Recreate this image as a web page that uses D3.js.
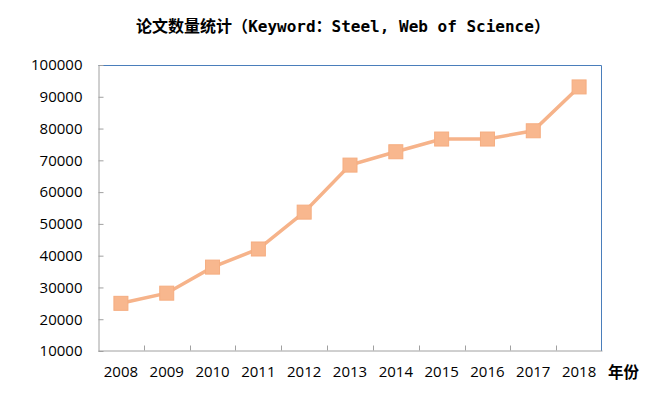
<!DOCTYPE html>
<html>
<head>
<meta charset="utf-8">
<script src="https://cdn.jsdelivr.net/npm/d3@7"></script>
<style>
  body { margin: 0; background: #fff; }
  .axis text { font-family: "Open Sans", sans-serif; font-size: 15px; fill: #000; }
  .cjk { font-family: "Noto Sans CJK SC", sans-serif; }
  .latin { font-family: "DejaVu Sans Mono", monospace; }
</style>
</head>
<body>
<div id="chart"></div>
<script>
const years = ['2008', '2009', '2010', '2011', '2012', '2013', '2014', '2015', '2016', '2017', '2018'];
const papers = [25000, 28200, 36400, 42100, 53700, 68500, 72700, 76700, 76700, 79300, 93100];
const yTicks = [10000, 20000, 30000, 40000, 50000, 60000, 70000, 80000, 90000, 100000];
const titleParts = [
  ['cjk', '论文数量统计（'],
  ['latin', 'Keyword'],
  ['cjk', '：'],
  ['latin', 'Steel, Web of Science'],
  ['cjk', '）']
];

const width = 650, height = 394;
const margin = {top: 65, right: 48, bottom: 43, left: 98};
const w = width - margin.left - margin.right;
const h = height - margin.top - margin.bottom;

let svg = d3.select('#chart')
  .append('svg')
  .attr('width', width)
  .attr('height', height);

let title = svg.append('text')
  .attr('x', 343)
  .attr('y', 32)
  .attr('text-anchor', 'middle')
  .style('font-weight', 'bold')
  .style('font-size', '16px');

title.selectAll('tspan')
  .data(titleParts)
  .enter()
    .append('tspan')
    .attr('class', d => d[0])
    .text(d => d[1]);

let g = svg.append('g')
  .attr('transform', `translate(${margin.left},${margin.top})`);

let x = d3.scaleBand()
  .domain(years)
  .range([0, w]);

let y = d3.scaleLinear()
  .domain([10000, 100000])
  .range([h, 0]);

// blue frame on top and right
g.append('path')
  .attr('d', `M0.5,0.5H${w - 0.5}V${h}`)
  .attr('fill', 'none')
  .attr('stroke', '#4a7ebb')
  .attr('stroke-width', 1);

let yAxis = d3.axisLeft(y)
  .tickValues(yTicks)
  .tickSizeInner(-5)
  .tickSizeOuter(0)
  .tickPadding(16)
  .tickFormat(d3.format('d'));

g.append('g')
  .attr('class', 'axis')
  .attr('transform', 'translate(0.5,0)')
  .call(yAxis)
  .call(s => s.selectAll('line, path').attr('stroke', '#a0a0a0'));

// category boundary ticks on the x axis
let xAxis = d3.axisBottom(x).tickSize(0).tickPadding(16);

let xg = g.append('g')
  .attr('class', 'axis')
  .attr('transform', `translate(0,${h - 0.5})`)
  .call(xAxis)
  .call(s => s.select('.domain').attr('stroke', '#a0a0a0'));

xg.selectAll('.bound')
  .data(years.slice(1))
  .enter()
    .append('line')
    .attr('class', 'bound')
    .attr('x1', d => Math.round(x(d)) + 0.5)
    .attr('x2', d => Math.round(x(d)) + 0.5)
    .attr('y1', 0)
    .attr('y2', -5)
    .attr('stroke', '#a0a0a0');

svg.append('text')
  .attr('x', 608)
  .attr('y', 378)
  .style('font-family', '"Noto Sans CJK SC", sans-serif')
  .style('font-weight', 'bold')
  .style('font-size', '15.5px')
  .text('年份');

let line = d3.line()
  .x((d, i) => x(years[i]) + x.bandwidth() / 2)
  .y(d => y(d));

g.append('path')
  .datum(papers)
  .attr('d', line)
  .attr('fill', 'none')
  .attr('stroke', '#f6b38a')
  .attr('stroke-width', 3.5);

g.selectAll('.marker')
  .data(papers)
  .enter()
    .append('rect')
    .attr('class', 'marker')
    .attr('x', (d, i) => x(years[i]) + x.bandwidth() / 2 - 7)
    .attr('y', d => y(d) - 7)
    .attr('width', 14)
    .attr('height', 14)
    .attr('fill', '#f8b78e')
    .attr('stroke', '#f5ad80')
    .attr('stroke-width', 1);
</script>
</body>
</html>
